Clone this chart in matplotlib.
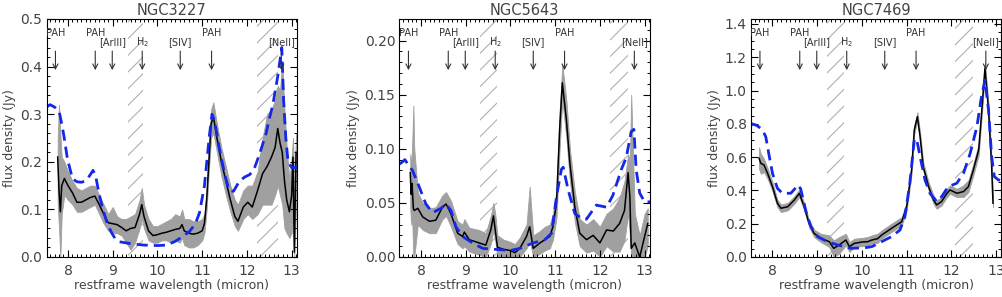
import matplotlib
matplotlib.use("Agg")
import matplotlib.pyplot as plt
from matplotlib.ticker import MultipleLocator

# NGC3227
wl_1 = [7.77, 7.80, 7.83, 7.86, 7.92, 8.0, 8.1, 8.2, 8.3, 8.4, 8.5, 8.6, 8.7, 8.8, 8.9,
        9.0, 9.1, 9.2, 9.3, 9.4, 9.5, 9.6, 9.65, 9.7, 9.8, 9.9, 10.0, 10.1, 10.2, 10.3,
        10.4, 10.5, 10.55, 10.6, 10.7, 10.8, 10.9, 11.0, 11.05, 11.1, 11.15, 11.2, 11.25,
        11.33, 11.43, 11.53, 11.63, 11.73, 11.8, 11.92, 12.02, 12.12, 12.24, 12.35, 12.45,
        12.55, 12.63, 12.69, 12.74, 12.79, 12.84, 12.89, 12.95, 13.0, 13.03, 13.06, 13.1]
flux_1 = [0.21, 0.14, 0.095, 0.15, 0.165, 0.15, 0.135, 0.115, 0.115, 0.12, 0.125, 0.128, 0.11, 0.09, 0.072,
          0.07, 0.068, 0.062, 0.055, 0.06, 0.062, 0.09, 0.11, 0.085, 0.055, 0.045, 0.047, 0.05, 0.052, 0.055,
          0.058, 0.06, 0.068, 0.055, 0.05, 0.048, 0.05, 0.055, 0.07, 0.12, 0.20, 0.28, 0.295,
          0.25, 0.20, 0.16, 0.12, 0.085, 0.075, 0.105, 0.115, 0.105, 0.14, 0.175, 0.19,
          0.21, 0.23, 0.27, 0.24, 0.22, 0.16, 0.12, 0.095, 0.13, 0.21, 0.01, 0.22]
lo_1 = [0.11, 0.06, 0.0, 0.09, 0.13, 0.12, 0.11, 0.095, 0.095, 0.10, 0.105, 0.11, 0.09, 0.07, 0.055,
        0.05, 0.05, 0.045, 0.03, 0.015, 0.03, 0.06, 0.08, 0.06, 0.035, 0.03, 0.03, 0.035, 0.035, 0.03,
        0.035, 0.03, 0.04, 0.025, 0.02, 0.02, 0.025, 0.035, 0.05, 0.10, 0.18, 0.25, 0.26,
        0.22, 0.17, 0.13, 0.095, 0.065, 0.055, 0.08, 0.09, 0.08, 0.09, 0.11, 0.11,
        0.11, 0.13, 0.15, 0.13, 0.11, 0.06, 0.05, 0.04, 0.05, 0.09, 0.0, 0.11]
hi_1 = [0.25, 0.32, 0.26, 0.21, 0.20, 0.18, 0.16, 0.145, 0.14, 0.145, 0.15, 0.15, 0.13, 0.11, 0.09,
        0.105, 0.085, 0.08, 0.08, 0.085, 0.09, 0.12, 0.145, 0.11, 0.08, 0.065, 0.065, 0.07, 0.075, 0.08,
        0.09, 0.085, 0.10, 0.08, 0.08, 0.075, 0.075, 0.08, 0.09, 0.14, 0.23, 0.31, 0.325,
        0.28, 0.23, 0.19, 0.15, 0.12, 0.11, 0.14, 0.15, 0.15, 0.18, 0.25, 0.30,
        0.31, 0.33, 0.36, 0.35, 0.41, 0.31, 0.23, 0.16, 0.21, 0.25, 0.16, 0.26]
model_wl_1 = [7.52, 7.6, 7.7, 7.8, 7.86, 7.91, 7.99, 8.1, 8.2, 8.3, 8.4, 8.5, 8.56, 8.62, 8.69,
              8.78, 8.88, 8.98, 9.06, 9.15, 9.4, 9.7, 10.0, 10.2, 10.38, 10.55, 10.72, 10.85,
              10.94, 11.05, 11.16, 11.22, 11.28, 11.38, 11.5, 11.6, 11.7, 11.83, 11.95, 12.06,
              12.15, 12.24, 12.33, 12.43, 12.5, 12.58, 12.69, 12.75, 12.78, 12.82, 12.87, 12.92,
              13.0, 13.12]
model_1 = [0.315, 0.32, 0.315, 0.307, 0.28, 0.254, 0.205, 0.165, 0.158, 0.157, 0.16, 0.173, 0.182, 0.17, 0.135,
           0.10, 0.07, 0.05, 0.038, 0.032, 0.028, 0.025, 0.024, 0.025, 0.032, 0.042, 0.054, 0.07,
           0.093, 0.149, 0.254, 0.30, 0.285, 0.23, 0.175, 0.14, 0.138, 0.159, 0.168, 0.173,
           0.182, 0.205, 0.23, 0.26, 0.29, 0.32, 0.38, 0.42, 0.44, 0.33, 0.25, 0.20,
           0.188, 0.188]

# NGC5643
wl_2 = [7.76, 7.78, 7.80, 7.83, 7.85, 7.93, 8.04, 8.19, 8.33, 8.48, 8.56, 8.67, 8.82, 8.93, 8.97,
        9.08, 9.3, 9.45, 9.56, 9.62, 9.66, 9.71, 9.85, 10.0, 10.1, 10.21, 10.36, 10.43, 10.51,
        10.66, 10.77, 10.88, 10.95, 11.03, 11.1, 11.16, 11.25, 11.33, 11.44, 11.55, 11.7,
        11.85, 12.0, 12.15, 12.3, 12.44, 12.55, 12.63, 12.67, 12.7, 12.78, 12.89, 13.0, 13.07]
flux_2 = [0.078, 0.058, 0.068, 0.045, 0.043, 0.045, 0.037, 0.033, 0.034, 0.046, 0.049, 0.04, 0.022, 0.019, 0.023,
          0.016, 0.013, 0.011, 0.025, 0.038, 0.025, 0.009, 0.007, 0.006, 0.004, 0.008, 0.019, 0.028, 0.008,
          0.013, 0.016, 0.019, 0.028, 0.05, 0.118, 0.161, 0.127, 0.086, 0.046, 0.022, 0.016,
          0.02, 0.013, 0.025, 0.024, 0.031, 0.043, 0.078, 0.056, 0.008, 0.013, 0.0, 0.019, 0.031]
lo_2 = [0.045, 0.03, 0.04, 0.0, 0.0, 0.03, 0.025, 0.022, 0.022, 0.035, 0.038, 0.028, 0.012, 0.008, 0.01,
        0.005, 0.002, 0.0, 0.012, 0.025, 0.015, 0.0, 0.0, 0.0, 0.0, 0.0, 0.008, 0.015, 0.0,
        0.003, 0.006, 0.008, 0.016, 0.036, 0.10, 0.145, 0.11, 0.07, 0.032, 0.01, 0.004,
        0.006, 0.0, 0.01, 0.005, 0.005, 0.015, 0.04, 0.02, 0.0, 0.0, 0.0, 0.0, 0.01]
hi_2 = [0.095, 0.085, 0.10, 0.14, 0.10, 0.06, 0.05, 0.045, 0.046, 0.057, 0.06, 0.052, 0.033, 0.03, 0.035,
        0.027, 0.025, 0.022, 0.038, 0.05, 0.04, 0.02, 0.016, 0.014, 0.012, 0.018, 0.03, 0.065, 0.02,
        0.024, 0.028, 0.03, 0.04, 0.062, 0.135, 0.178, 0.145, 0.10, 0.06, 0.035, 0.03,
        0.035, 0.028, 0.04, 0.045, 0.055, 0.07, 0.095, 0.09, 0.15, 0.04, 0.02, 0.04, 0.045]
model_wl_2 = [7.52, 7.59, 7.64, 7.72, 7.81, 7.96, 8.11, 8.26, 8.45, 8.56, 8.67, 8.78, 8.93, 9.15,
              9.38, 9.68, 10.0, 10.21, 10.51, 10.77, 10.92, 11.03, 11.14, 11.18, 11.29, 11.44,
              11.62, 11.7, 11.92, 12.15, 12.29, 12.48, 12.59, 12.7, 12.76, 12.81, 12.89, 13.0, 13.12]
model_2 = [0.086, 0.088, 0.09, 0.085, 0.08, 0.065, 0.049, 0.041, 0.045, 0.049, 0.043, 0.028, 0.019, 0.013,
           0.008, 0.007, 0.006, 0.008, 0.013, 0.016, 0.022, 0.056, 0.081, 0.083, 0.062, 0.04,
           0.035, 0.035, 0.048, 0.046, 0.057, 0.081, 0.092, 0.116, 0.118, 0.081, 0.059, 0.051, 0.051]

# NGC7469
wl_3 = [7.70, 7.74, 7.81, 7.89, 8.0, 8.11, 8.19, 8.34, 8.49, 8.6, 8.71, 8.82, 8.93, 9.08, 9.27,
        9.37, 9.49, 9.64, 9.72, 9.83, 10.0, 10.13, 10.22, 10.35, 10.44, 10.66, 10.89, 11.0,
        11.11, 11.17, 11.24, 11.3, 11.37, 11.49, 11.6, 11.67, 11.78, 11.9, 11.97, 12.12,
        12.27, 12.38, 12.49, 12.61, 12.68, 12.75, 12.83, 12.9, 12.93]
flux_3 = [0.593, 0.563, 0.553, 0.503, 0.423, 0.323, 0.293, 0.302, 0.343, 0.383, 0.302, 0.2, 0.142, 0.112, 0.092,
          0.052, 0.072, 0.102, 0.062, 0.082, 0.09, 0.092, 0.102, 0.11, 0.132, 0.172, 0.212, 0.302,
          0.523, 0.763, 0.843, 0.723, 0.543, 0.423, 0.343, 0.313, 0.333, 0.383, 0.403, 0.383,
          0.393, 0.423, 0.523, 0.643, 0.883, 1.134, 0.883, 0.543, 0.323]
lo_3 = [0.53, 0.50, 0.51, 0.47, 0.395, 0.30, 0.27, 0.28, 0.32, 0.36, 0.28, 0.18, 0.12, 0.09, 0.06,
        0.0, 0.02, 0.07, 0.03, 0.06, 0.065, 0.07, 0.08, 0.085, 0.11, 0.15, 0.19, 0.28,
        0.50, 0.74, 0.82, 0.70, 0.52, 0.40, 0.32, 0.29, 0.31, 0.36, 0.38, 0.36,
        0.36, 0.39, 0.49, 0.61, 0.85, 1.10, 0.85, 0.51, 0.30]
hi_3 = [0.66, 0.62, 0.59, 0.535, 0.45, 0.345, 0.315, 0.325, 0.365, 0.405, 0.325, 0.22, 0.165, 0.14, 0.13,
        0.10, 0.12, 0.14, 0.09, 0.11, 0.115, 0.12, 0.13, 0.14, 0.16, 0.20, 0.24, 0.33,
        0.55, 0.79, 0.87, 0.75, 0.57, 0.45, 0.37, 0.34, 0.36, 0.41, 0.43, 0.41,
        0.43, 0.46, 0.56, 0.68, 0.92, 1.17, 0.92, 0.58, 0.35]
model_wl_3 = [7.52, 7.55, 7.65, 7.74, 7.8, 7.85, 7.93, 8.0, 8.11, 8.22, 8.41, 8.5, 8.56, 8.63, 8.75,
              8.86, 9.01, 9.23, 9.46, 9.75, 10.05, 10.22, 10.44, 10.66, 10.85, 10.96, 11.07, 11.17,
              11.22, 11.3, 11.41, 11.52, 11.67, 11.78, 11.93, 12.12, 12.27, 12.42, 12.57, 12.66,
              12.75, 12.83, 12.9, 12.96, 13.05, 13.15]
model_3 = [0.79, 0.80, 0.79, 0.773, 0.75, 0.723, 0.603, 0.503, 0.413, 0.383, 0.383, 0.41, 0.433, 0.41, 0.272,
           0.182, 0.122, 0.092, 0.072, 0.052, 0.055, 0.062, 0.092, 0.122, 0.162, 0.242, 0.443, 0.703,
           0.713, 0.603, 0.463, 0.383, 0.333, 0.362, 0.423, 0.443, 0.503, 0.623, 0.783, 0.943,
           1.064, 0.883, 0.603, 0.483, 0.463, 0.46]

names = ['NGC3227', 'NGC5643', 'NGC7469']
ymax = [0.5, 0.22, 1.43]
yminor = [0.02, 0.01, 0.05]
ymajor = [0.1, 0.05, 0.2]
yfmt = ['%.1f', '%.2f', '%.1f']
masked = [[(9.34, 9.68), (12.23, 12.70)],
          [(9.32, 9.70), (12.22, 12.62)],
          [(9.23, 9.61), (12.08, 12.48)]]

line_labels = ['PAH', 'PAH', '[ArIII]', 'H$_2$', '[SIV]', 'PAH', '[NeII]']
line_wl = [7.72, 8.61, 8.99, 9.66, 10.51, 11.21, 12.77]

txt = '#444444'
plt.rcParams['font.family'] = 'DejaVu Sans'
plt.rcParams['hatch.linewidth'] = 0.8

fig = plt.figure(figsize=(10.03, 2.97), dpi=100)
lefts = [46.5, 399.5, 751.0]
data = [(wl_1, flux_1, lo_1, hi_1, model_wl_1, model_1),
        (wl_2, flux_2, lo_2, hi_2, model_wl_2, model_2),
        (wl_3, flux_3, lo_3, hi_3, model_wl_3, model_3)]

for i in range(3):
    ax = fig.add_axes([lefts[i] / 1003, 40 / 297, 250.5 / 1003, 238 / 297])
    wl, flux, lo, hi, mwl, model = data[i]

    # masked regions
    for a, b in masked[i]:
        ax.fill_betweenx([0, ymax[i]], a, b, facecolor='none', edgecolor='#b0b0b0',
                         hatch='//', linewidth=0)

    ax.fill_between(wl, lo, hi, color='#a0a0a0', linewidth=0.6, edgecolor='#a0a0a0')
    ax.plot(wl, flux, color='black', lw=1.1)
    ax.plot(mwl, model, color='#1428e8', lw=2.0, dashes=(4, 2.2))

    # line markers
    for j in range(len(line_wl)):
        ax.annotate('', xy=(line_wl[j], 0.785), xycoords=('data', 'axes fraction'),
                    xytext=(line_wl[j], 0.865), textcoords=('data', 'axes fraction'),
                    arrowprops=dict(arrowstyle='->', color='#333333', lw=0.8,
                                    shrinkA=0, shrinkB=0, mutation_scale=9))
        yl = 0.94 if line_labels[j] == 'PAH' else 0.905
        ax.text(line_wl[j], yl, line_labels[j], transform=ax.get_xaxis_transform(),
                ha='center', va='center', fontsize=7, color='#333333')

    ax.set_xlim(7.52, 13.12)
    ax.set_ylim(0, ymax[i])
    ax.xaxis.set_major_locator(MultipleLocator(1))
    ax.xaxis.set_minor_locator(MultipleLocator(0.1))
    ax.yaxis.set_major_locator(MultipleLocator(ymajor[i]))
    ax.yaxis.set_minor_locator(MultipleLocator(yminor[i]))
    ax.yaxis.set_major_formatter(matplotlib.ticker.FormatStrFormatter(yfmt[i]))
    ax.tick_params(which='both', direction='in', top=True, right=True, colors='black',
                   labelcolor=txt, labelsize=10)
    ax.tick_params(which='major', length=5, width=0.8)
    ax.tick_params(which='minor', length=2.5, width=0.7)
    ax.tick_params(axis='y', pad=3)
    ax.tick_params(axis='x', pad=5)
    ax.set_title(names[i], fontsize=10.5, color=txt, pad=3)
    ax.set_xlabel('restframe wavelength (micron)', fontsize=9, color=txt, labelpad=1)
    ax.set_ylabel('flux density (Jy)', fontsize=9, color=txt, labelpad=3)

fig.savefig('out.png', dpi=100)
